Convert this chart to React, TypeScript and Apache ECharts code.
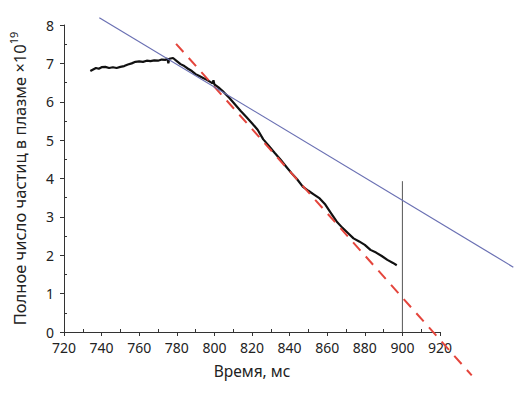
import React, { useEffect, useRef } from "react";
import * as echarts from "echarts";

const timeMs = [734, 735.5, 737, 738.5, 740, 742, 744, 746, 748, 750, 752, 754, 756, 758, 760, 762, 764, 766, 768, 770, 772, 774, 775, 775.5, 776, 778, 780, 782, 784, 786, 788, 790, 792, 794, 796, 798, 799, 799.5, 800, 802, 805, 808, 811, 814, 817, 820, 823, 826, 829, 832, 835, 838, 841, 844, 847, 850, 853, 856, 859, 862, 865, 868, 871, 874, 877, 880, 883, 886, 889, 892, 895, 897];
const particles = [6.80, 6.84, 6.88, 6.86, 6.90, 6.91, 6.88, 6.90, 6.88, 6.91, 6.93, 6.97, 7.00, 7.04, 7.05, 7.04, 7.07, 7.06, 7.08, 7.07, 7.10, 7.09, 7.13, 7.00, 7.12, 7.14, 7.06, 6.98, 6.93, 6.86, 6.80, 6.72, 6.67, 6.62, 6.57, 6.51, 6.48, 6.56, 6.45, 6.38, 6.25, 6.10, 5.93, 5.76, 5.60, 5.44, 5.27, 5.02, 4.85, 4.67, 4.50, 4.32, 4.14, 3.98, 3.79, 3.68, 3.58, 3.48, 3.32, 3.10, 2.88, 2.72, 2.58, 2.44, 2.36, 2.27, 2.14, 2.07, 1.98, 1.88, 1.80, 1.74];

const blueFitX = [740.7, 958.6];
const blueFitY = [8.19, 1.69];
const redFitX = [781.1, 936.7];
const redFitY = [7.51, -1.13];
const markerX = [900, 900];
const markerY = [0, 3.93];

const xTicks = { min: 720, max: 920, interval: 20 };
const yTicks = { min: 0, max: 8, interval: 1 };
// wider hidden range used only so the fit lines can run past the drawn axes
const xWide = { min: 720, max: 960 };
const yWide = { min: -1.2, max: 8 };

const zip = (a: number[], b: number[]) => a.map((v, i) => [v, b[i]]);

export default function App() {
  const ref = useRef<HTMLDivElement>(null);
  useEffect(() => {
    if (!ref.current) return;
    const chart = echarts.init(ref.current, null, { renderer: "svg" });
    const font = "Noto Sans";
    const left = 60;
    const top = 25;
    const w = 380;
    const h = 307;
    const pxPerX = w / (xTicks.max - xTicks.min);
    const pxPerY = h / (yTicks.max - yTicks.min);
    chart.setOption({
      animation: false,
      textStyle: { fontFamily: font },
      grid: [
        { left, top, width: w, height: h, containLabel: false },
        {
          left,
          top,
          width: pxPerX * (xWide.max - xWide.min),
          height: pxPerY * (yWide.max - yWide.min),
          containLabel: false,
        },
      ],
      xAxis: [
        {
          type: "value",
          gridIndex: 0,
          min: xTicks.min,
          max: xTicks.max,
          interval: xTicks.interval,
          name: "Время, мс",
          nameLocation: "middle",
          nameGap: 31,
          nameTextStyle: { fontSize: 15.5, color: "#222", fontFamily: font },
          axisLine: { lineStyle: { color: "#333", width: 1 } },
          axisTick: { length: 4, lineStyle: { color: "#333" } },
          minorTick: { show: true, splitNumber: 2, length: -3, lineStyle: { color: "#333" } },
          splitLine: { show: false },
          axisLabel: { fontSize: 14, color: "#222", margin: 9, lineHeight: 12, fontFamily: font },
        },
        {
          type: "value",
          gridIndex: 1,
          min: xWide.min,
          max: xWide.max,
          show: false,
        },
      ],
      yAxis: [
        {
          type: "value",
          gridIndex: 0,
          min: yTicks.min,
          max: yTicks.max,
          interval: yTicks.interval,
          name: "{a|Полное число частиц в плазме ×10}{s|19}",
          nameLocation: "middle",
          nameGap: 36,
          nameTextStyle: {
            fontSize: 16.5,
            color: "#222",
            fontFamily: font,
            rich: {
              a: { fontSize: 16.5, color: "#222", fontFamily: font, lineHeight: 20, verticalAlign: "bottom" },
              s: { fontSize: 11, color: "#222", fontFamily: font, lineHeight: 20, verticalAlign: "top" },
            },
          },
          axisLine: { show: true, lineStyle: { color: "#333", width: 1 } },
          axisTick: { show: true, length: 4, lineStyle: { color: "#333" } },
          minorTick: { show: true, splitNumber: 2, length: -3, lineStyle: { color: "#333" } },
          splitLine: { show: false },
          axisLabel: { fontSize: 14, color: "#222", margin: 10, lineHeight: 10, fontFamily: font },
        },
        {
          type: "value",
          gridIndex: 1,
          min: yWide.min,
          max: yWide.max,
          show: false,
        },
      ],
      series: [
        {
          type: "line",
          xAxisIndex: 0,
          yAxisIndex: 0,
          data: zip(markerX, markerY),
          showSymbol: false,
          lineStyle: { color: "#555", width: 1 },
          z: 1,
        },
        {
          type: "line",
          xAxisIndex: 0,
          yAxisIndex: 0,
          data: zip(timeMs, particles),
          showSymbol: false,
          lineStyle: { color: "#111", width: 2.2 },
          z: 2,
        },
        {
          type: "line",
          xAxisIndex: 1,
          yAxisIndex: 1,
          data: zip(redFitX, redFitY),
          showSymbol: false,
          clip: false,
          lineStyle: { color: "#e4453c", width: 2, type: [11, 8] },
          z: 3,
        },
        {
          type: "line",
          xAxisIndex: 1,
          yAxisIndex: 1,
          data: zip(blueFitX, blueFitY),
          showSymbol: false,
          clip: false,
          lineStyle: { color: "#6a70b3", width: 1.2 },
          z: 4,
        },
      ],
    });
    return () => chart.dispose();
  }, []);
  return (
    <div
      ref={ref}
      style={{ position: "fixed", left: 0, top: 0, width: 523, height: 398, background: "#fff" }}
    />
  );
}
